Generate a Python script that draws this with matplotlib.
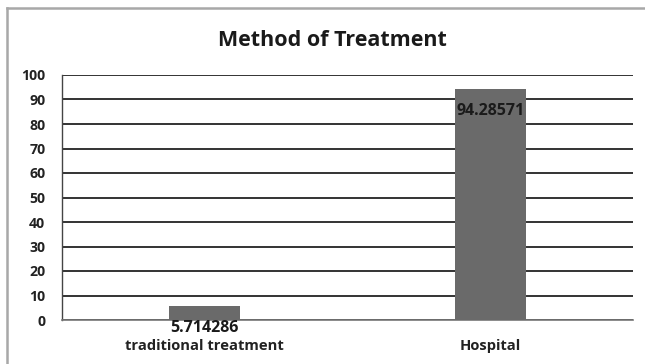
import matplotlib
matplotlib.use("Agg")
import matplotlib.pyplot as plt
from matplotlib.lines import Line2D

# Chart data
categories = ["traditional treatment", "Hospital"]
values = [5.714286, 94.28571]
value_labels = ["5.714286", "94.28571"]
y_ticks = [0, 10, 20, 30, 40, 50, 60, 70, 80, 90, 100]

plt.rcParams['font.family'] = ['Open Sans', 'DejaVu Sans']

fig = plt.figure(figsize=(6.45, 3.64), dpi=100)
fig.patch.set_facecolor("white")

# Chart frame (top and left edges)
fig.add_artist(Line2D([7/645, 1.0], [1 - 8/364, 1 - 8/364], color="#a8a8a8", lw=1.8,
                      transform=fig.transFigure))
fig.add_artist(Line2D([7/645, 7/645], [0.0, 1 - 8/364], color="#a8a8a8", lw=1.8,
                      transform=fig.transFigure))

ax = fig.add_axes([62/645, 1 - 320/364, (633 - 62)/645, (320 - 75)/364])

x = list(range(len(categories)))
ax.bar(x, values, width=0.25, color="#6a6a6a", zorder=3)

ax.set_xlim(-0.5, len(categories) - 0.5)
ax.set_ylim(0, 100)
ax.set_yticks(y_ticks)
ax.set_yticklabels([str(t) for t in y_ticks], fontsize=10.2, fontweight="bold", color="#222222")
ax.set_xticks(x)
ax.set_xticklabels(categories, fontsize=10.6, fontweight="bold", color="#222222")
ax.tick_params(axis="y", length=0, pad=12)
ax.tick_params(axis="x", length=0, pad=14)

ax.grid(axis="y", color="#111111", lw=1.2, zorder=1)
ax.set_axisbelow(True)
for side in ["top", "right"]:
    ax.spines[side].set_visible(False)
ax.spines["left"].set_color("#444444")
ax.spines["left"].set_linewidth(1.0)
ax.spines["bottom"].set_color("#777777")
ax.spines["bottom"].set_linewidth(1.2)

for xi, v, lab in zip(x, values, value_labels):
    ax.annotate(lab, (xi, v), xytext=(0, -15.5), textcoords="offset points",
                ha="center", va="center", fontsize=11.5, fontweight="bold",
                color="#1a1a1a", zorder=4, annotation_clip=False)

fig.text(332/645, 1 - 40/364, "Method of Treatment", ha="center", va="center",
         fontsize=15.5, fontweight="bold", color="#1a1a1a")

fig.savefig("out.png", dpi=100, facecolor="white")
